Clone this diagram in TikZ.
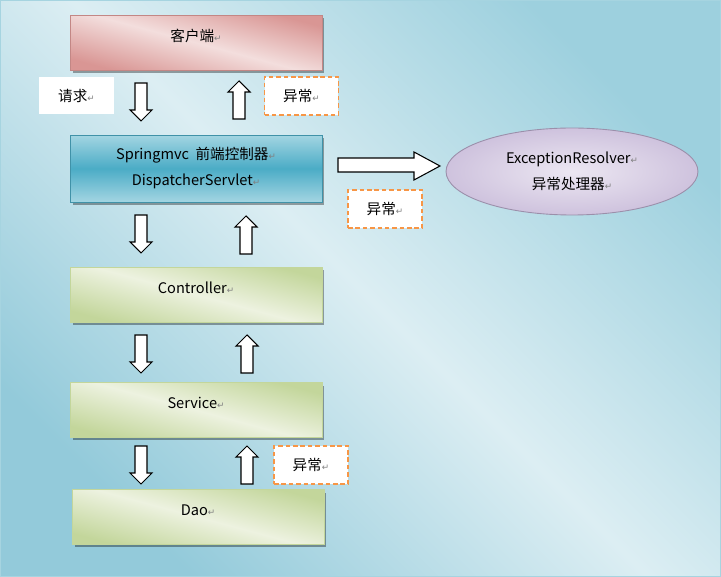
\documentclass[tikz,border=0pt]{standalone}
\usepackage{fontspec}
\setmainfont{Noto Sans CJK SC}
\newfontfamily\symfont{DejaVu Sans}
\usetikzlibrary{shapes.geometric,shadows}

\definecolor{bglight}{HTML}{DCEEF3}
\definecolor{bgdark}{HTML}{9DD0DE}
\definecolor{bgdarkb}{HTML}{93CADA}
\definecolor{bgframe}{HTML}{A6D4E0}
\definecolor{pinkdark}{HTML}{D99694}
\definecolor{pinklight}{HTML}{F3DEDD}
\definecolor{bluelight}{HTML}{A3D5E2}
\definecolor{bluedark}{HTML}{4BACC6}
\definecolor{greendark}{HTML}{C3D69B}
\definecolor{greenlight}{HTML}{EDF2E0}
\definecolor{purpledark}{HTML}{C2B3D5}
\definecolor{purplelight}{HTML}{ECE7F2}
\definecolor{excorange}{HTML}{F79646}
\definecolor{retgray}{HTML}{808080}

\newcommand{\ret}{{\symfont\color{retgray}\fontsize{5}{5}\selectfont ↵}}

\tikzset{
  every node/.style={font=\fontsize{8.3}{14.8}\selectfont, text=black},
  layerbox/.style={minimum width=5.04cm, minimum height=1.1cm, inner sep=0pt,
    drop shadow={shadow xshift=0.05cm, shadow yshift=-0.06cm, fill=black, opacity=0.35}},
  raisedtext/.style={text height=6pt, text depth=7.2pt},
  clientbox/.style={layerbox, raisedtext, draw=pinkdark!90!black, line width=0.5pt,
    top color=pinkdark, bottom color=pinkdark, middle color=pinklight, shading angle=-15},
  frontbox/.style={layerbox, minimum height=1.34cm, align=center, draw=bluedark!85!black, line width=0.5pt,
    top color=bluelight, bottom color=bluelight, middle color=bluedark},
  greenbox/.style={layerbox, raisedtext, draw=greendark, line width=0.5pt,
    top color=greendark, bottom color=greendark, middle color=greenlight, shading angle=-15},
  excbox/.style={draw=excorange, fill=white, line width=0.9pt, dash pattern=on 2.6pt off 1.6pt,
    minimum width=1.48cm, minimum height=0.76cm, inner sep=0pt},
  labelbox/.style={fill=white, minimum width=1.5cm, minimum height=0.74cm, inner sep=0pt},
  resolverbox/.style={ellipse, draw=purpledark!80!black, line width=0.5pt, align=center,
    inner color=purplelight, outer color=purpledark!80!white,
    minimum width=5.04cm, minimum height=1.74cm, inner sep=0pt},
  blockarrow/.style={draw=black, fill=white, line width=0.6pt, line join=miter},
  downblock/.pic={
    \draw[blockarrow] (-6,0) -- (6,0) -- (6,27) -- (11,27) -- (0,38) -- (-11,27) -- (-6,27) -- cycle;
  },
  upblock/.pic={
    \draw[blockarrow] (0,0) -- (11,11) -- (6,11) -- (6,38) -- (-6,38) -- (-6,11) -- (-11,11) -- cycle;
  }
}

\begin{document}
\begin{tikzpicture}[x=0.02cm, y=-0.02cm]

  % Hintergrund
  \useasboundingbox (0,0) rectangle (721,577);
  \shade[top color=bgdark, bottom color=bgdarkb, middle color=bglight, shading angle=-45]
    (0,0) rectangle (721,577);
  \draw[bgframe, line width=1pt] (0.5,0.5) rectangle (720.5,576.5);

  % Schichten
  \node[clientbox] (client) at (196,42.5) {客户端\ret};
  \node[frontbox] (dispatcher) at (196,168.5) {Springmvc\ \ 前端控制器\ret\\DispatcherServlet\ret};
  \node[greenbox] (controller) at (196,294.5) {Controller\ret};
  \node[greenbox] (service) at (196,410) {Service\ret};
  \node[greenbox] (dao) at (198,517) {Dao\ret};

  % Beschriftungen
  \node[labelbox] (request) at (76.5,95.5) {请求\ret};
  \node[excbox] (exc1) at (301.5,96) {异常\ret};
  \node[excbox] (exc2) at (385,209) {异常\ret};
  \node[excbox] (exc3) at (311,465) {异常\ret};

  % Exception-Resolver
  \node[resolverbox] (resolver) at (572,171.5) {ExceptionResolver\ret\\异常处理器\ret};

  % Pfeile nach unten und oben
  \foreach \y in {83,215,335,446}
    \pic at (141,\y) {downblock};
  \foreach \x/\y in {239/81,246/216,247/335,247/446}
    \pic at (\x,\y) {upblock};

  % Pfeil zum Resolver
  \draw[blockarrow] (338,158) -- (414,158) -- (414,152) -- (440,166)
    -- (414,180) -- (414,172) -- (338,172) -- cycle;

\end{tikzpicture}
\end{document}
